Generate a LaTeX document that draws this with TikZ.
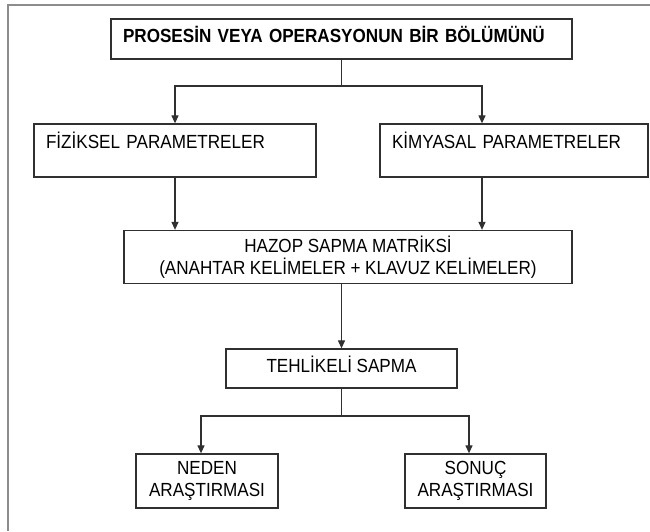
\documentclass[tikz,border=0pt]{standalone}
\usepackage{fontspec}
\setmainfont{Liberation Sans}[FakeStretch=0.9]
\usetikzlibrary{arrows.meta}
\definecolor{edge}{HTML}{303030}
\definecolor{framegray}{HTML}{8C8C8C}
\newcommand\flowfont{\fontsize{19}{21.5}\selectfont\spaceskip 4.6pt\relax}
\begin{document}
\begin{tikzpicture}[x=1pt,y=-1pt,
  box/.style={draw=edge, line width=1.3pt, rectangle, inner sep=0pt,
    font=\flowfont, align=center},
  toptext/.style={align=left, text height=13.6pt, text depth=18.6pt},
  link/.style={draw=edge, line width=1.2pt},
  flow/.style={link, -{Triangle[length=8pt,width=7pt]}}
]
\useasboundingbox (0,0) rectangle (650,531);

% page frame
\draw[framegray, line width=1.3pt] (8,531) -- (8,5) -- (650,5);

% boxes
\node[box, minimum width=461pt, minimum height=40pt, text width=437pt,
      align=left, text height=13.6pt, text depth=7.6pt] (part) at (341.5,39)
  {\textbf{PROSESİN VEYA OPERASYONUN BİR BÖLÜMÜNÜ}};
\node[box, toptext, minimum width=282pt, minimum height=53pt, text width=258pt]
  (fiz) at (175,150.5) {FİZİKSEL PARAMETRELER};
\node[box, toptext, minimum width=268pt, minimum height=53pt, text width=244pt]
  (kim) at (514,150.5) {KİMYASAL PARAMETRELER};
\node[box, minimum width=448pt, minimum height=53pt] (hazop) at (348,257)
  {HAZOP SAPMA MATRİKSİ\\(ANAHTAR KELİMELER + KLAVUZ KELİMELER)};
\node[box, minimum width=231pt, minimum height=39pt, text height=13.6pt, text depth=5.6pt]
  (teh) at (341.5,368.5) {TEHLİKELİ SAPMA};
\node[box, minimum width=142pt, minimum height=54pt] (neden) at (207,481)
  {NEDEN\\ARAŞTIRMASI};
\node[box, minimum width=141pt, minimum height=54pt] (sonuc) at (475.5,481)
  {SONUÇ\\ARAŞTIRMASI};

% branch points
\coordinate (split1) at (341.5,86);
\coordinate (split2) at (341.5,416);

% connectors
\draw[link] (part) -- (split1);
\draw[flow] (split1) -| (fiz.north);
\draw[flow] (split1) -| ([xshift=-32pt]kim.north);
\draw[flow] (fiz.south) -- (fiz.south |- hazop.north);
\draw[flow] ([xshift=-32pt]kim.south) -- ([xshift=-32pt]kim.south |- hazop.north);
\draw[flow] (hazop.south -| teh.north) -- (teh.north);
\draw[link] (teh) -- (split2);
\draw[flow] (split2) -| ([xshift=-6pt]neden.north);
\draw[flow] (split2) -| ([xshift=-6.5pt]sonuc.north);
\end{tikzpicture}
\end{document}
